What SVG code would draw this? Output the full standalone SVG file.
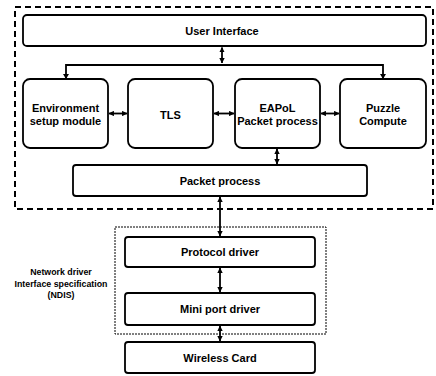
<svg xmlns="http://www.w3.org/2000/svg" width="436" height="376" viewBox="0 0 436 376">
<defs>
<marker id="ah" viewBox="0 0 6 6" refX="5.5" refY="3" markerWidth="3" markerHeight="3" orient="auto-start-reverse" markerUnits="strokeWidth">
<path d="M0,0 L6,3 L0,6 Z" fill="#000"/>
</marker>
<style>
.box{fill:#fff;stroke:#000;stroke-width:1.8}
.t{font-family:"Liberation Sans",Arial,sans-serif;font-weight:bold;font-size:11px;text-anchor:middle;fill:#000}
.s{font-family:"Liberation Sans",Arial,sans-serif;font-weight:bold;font-size:8.8px;text-anchor:middle;fill:#000}
.c{fill:none;stroke:#000;stroke-width:1.8}
.ca{fill:none;stroke:#000;stroke-width:1.8;marker-start:url(#ah);marker-end:url(#ah)}
</style>
</defs>
<rect x="0" y="0" width="436" height="376" fill="#fff"/>
<g id="outer">
<rect x="15" y="7" width="418" height="202" fill="none" stroke="#000" stroke-width="2" stroke-dasharray="6,4"/>
</g>
<g id="ndis">
<rect x="115" y="227" width="211" height="107" fill="none" stroke="#000" stroke-width="1" stroke-dasharray="2,1"/>
<text class="s" x="61" y="275">Network driver</text>
<text class="s" x="61" y="286.5">Interface specification</text>
<text class="s" x="61" y="298">(NDIS)</text>
</g>
<g id="connectors">
<path class="ca" d="M222,47.5 V63"/>
<path class="c" d="M66,78 V65 H383 V78"/>
<path d="M63,74 L66,79 L69,74 Z" fill="#000"/>
<path d="M380,74 L383,79 L386,74 Z" fill="#000"/>
<path class="ca" d="M109,113.5 H127"/>
<path class="ca" d="M214,113.5 H234"/>
<path class="ca" d="M321,113.5 H339"/>
<path class="ca" d="M277,149 V164"/>
<path class="ca" d="M220,197 V236"/>
<path class="ca" d="M220,268 V292"/>
<path class="ca" d="M220,326 V341"/>
</g>
<g id="ui">
<rect class="box" x="23" y="15" width="403" height="31" rx="4"/>
<text class="t" x="222" y="34.5">User Interface</text>
</g>
<g id="env">
<rect class="box" x="23" y="79" width="85" height="69" rx="7"/>
<text class="t" x="65.5" y="112">Environment</text>
<text class="t" x="65.5" y="125">setup module</text>
</g>
<g id="tls">
<rect class="box" x="128" y="79" width="85" height="69" rx="7"/>
<text class="t" x="170.5" y="118.5">TLS</text>
</g>
<g id="eapol">
<rect class="box" x="235" y="79" width="85" height="69" rx="7"/>
<text class="t" x="277.5" y="112">EAPoL</text>
<text class="t" x="277.5" y="125">Packet process</text>
</g>
<g id="puzzle">
<rect class="box" x="340" y="79" width="86" height="69" rx="7"/>
<text class="t" x="383" y="112">Puzzle</text>
<text class="t" x="383" y="125">Compute</text>
</g>
<g id="packet">
<rect class="box" x="73" y="165" width="294" height="31" rx="3"/>
<text class="t" x="220" y="185">Packet process</text>
</g>
<g id="protocol">
<rect class="box" x="125" y="237" width="190" height="30" rx="3"/>
<text class="t" x="220" y="256">Protocol driver</text>
</g>
<g id="miniport">
<rect class="box" x="125" y="293" width="190" height="32" rx="3"/>
<text class="t" x="220" y="313">Mini port driver</text>
</g>
<g id="wireless">
<rect class="box" x="125" y="342" width="190" height="31" rx="3"/>
<text class="t" x="220" y="361.5">Wireless Card</text>
</g>
</svg>
